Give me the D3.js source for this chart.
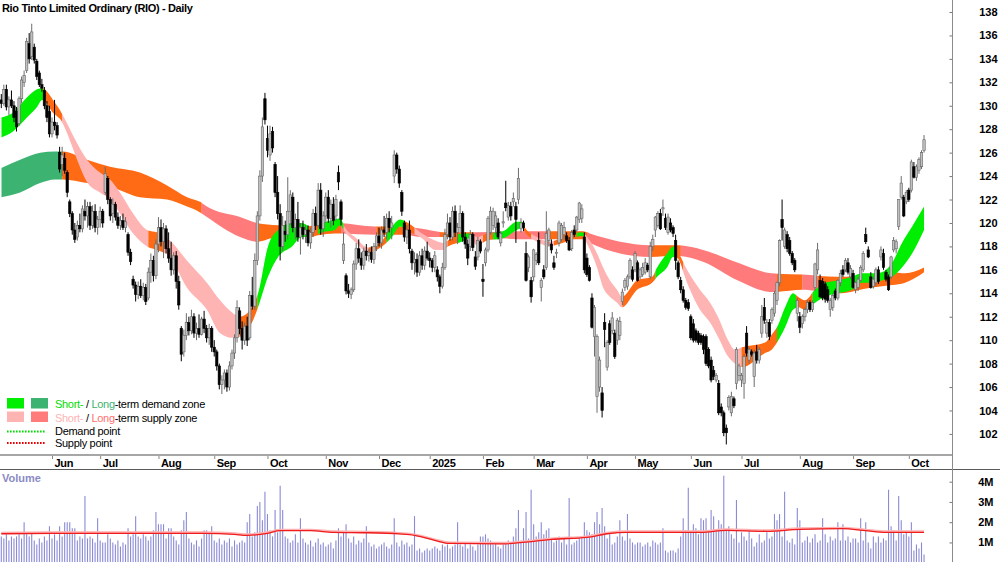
<!DOCTYPE html>
<html>
<head>
<meta charset="utf-8">
<script src="https://cdn.jsdelivr.net/npm/d3@7"></script>
<style>
  body { margin: 0; background: #fff; }
  svg { display: block; font-family: "Liberation Sans", Arial, sans-serif; }
</style>
</head>
<body>
<div id="app"></div>
<script>
// ---- data ----
const title = "Rio Tinto Limited Ordinary (RIO) - Daily";
const firstDay = "2024-05-06";
const holidays = ["2024-06-10", "2024-12-25", "2024-12-26", "2025-01-01", "2025-01-27",
                  "2025-04-18", "2025-04-21", "2025-04-25", "2025-06-09"];

// daily candles: [open, high, low, close]
const candles = [
  [130.5,131.0,129.8,130.2],[130.2,131.8,130.0,131.4],[131.4,131.8,129.6,129.9],[129.9,130.8,129.2,130.5],[130.5,131.3,129.8,130.0],
  [130.0,130.4,128.6,129.0],[129.5,129.9,127.8,128.2],[128.5,130.8,128.3,130.6],[130.6,132.5,130.2,132.2],[132.0,133.0,131.6,132.6],
  [133.0,135.8,132.8,135.5],[135.3,136.2,133.6,134.0],[134.2,137.0,133.9,136.3],[135.0,135.3,133.6,133.9],[133.8,134.0,132.2,132.5],
  [132.8,133.0,131.6,131.8],[131.8,132.3,131.2,131.5],[131.3,131.6,129.7,130.0],[130.0,130.4,128.6,129.0],[129.5,130.0,127.3,127.6],
  [127.6,129.0,127.3,128.6],[128.6,130.5,127.9,128.3],[128.3,128.6,127.2,127.5],[126.0,126.5,124.3,124.6],[125.0,126.5,124.0,125.8],
  [125.5,126.0,124.2,124.5],[124.3,124.5,122.2,122.6],[121.8,122.0,120.5,120.8],[120.8,121.0,119.0,119.4],[119.4,120.0,118.3,118.6],
  [118.8,120.2,118.5,119.8],[119.8,120.8,119.2,119.5],[119.5,121.5,119.2,121.2],[121.0,122.0,120.2,120.6],[120.6,121.8,119.6,121.4],
  [121.4,121.8,119.4,119.8],[119.8,121.5,119.5,121.0],[121.0,121.6,119.2,119.6],[119.6,120.6,119.0,120.3],[120.3,121.4,119.6,121.0],
  [121.0,121.2,119.6,120.0],[122.6,124.8,122.4,124.2],[123.8,124.0,121.6,122.0],[122.0,122.2,120.2,120.6],[120.8,122.1,120.0,121.6],
  [121.6,121.8,120.2,120.5],[120.5,120.9,119.5,119.8],[119.8,120.6,119.4,120.2],[120.2,120.8,119.4,119.6],[119.6,120.5,119.2,120.1],
  [119.0,119.2,117.2,117.5],[117.5,117.8,116.4,116.7],[115.2,115.5,114.4,114.7],[114.7,115.0,113.3,113.9],[113.9,115.0,113.5,114.6],
  [114.6,115.2,113.6,113.8],[113.8,114.9,113.4,114.5],[114.5,114.8,113.0,113.3],[113.6,116.2,113.4,115.8],[115.8,117.4,114.9,116.8],
  [116.8,117.2,115.0,115.5],[115.5,118.6,115.2,118.2],[118.2,120.5,117.5,119.6],[119.6,120.3,118.0,118.4],[118.4,120.0,117.0,119.5],
  [119.5,119.8,117.4,117.8],[117.8,119.2,116.6,117.0],[117.0,118.4,115.5,116.0],[116.0,117.5,115.6,117.2],[117.2,117.6,114.4,115.0],
  [115.0,115.5,112.6,113.0],[111.0,111.2,108.2,108.8],[109.0,110.9,108.6,110.4],[110.4,112.3,110.0,111.5],[111.5,112.0,110.4,110.8],
  [110.8,112.6,110.5,112.0],[112.0,112.3,110.2,110.6],[110.6,111.5,110.0,111.0],[111.0,112.2,110.2,110.5],[110.5,112.0,110.4,111.8],
  [111.8,112.5,110.6,111.0],[111.0,111.3,109.8,110.2],[110.2,111.4,109.6,111.0],[111.0,111.2,109.0,109.4],[109.4,110.0,108.6,109.0],
  [109.0,109.2,107.4,107.8],[107.8,108.0,105.8,106.2],[106.2,107.0,105.4,106.6],[106.6,107.5,105.8,107.2],[107.2,107.5,105.6,106.0],
  [106.0,108.2,105.7,107.8],[107.8,109.2,107.5,108.9],[108.9,110.5,108.4,110.2],[110.2,113.4,109.8,112.8],[112.5,112.8,110.5,111.0],
  [111.0,111.6,109.2,110.0],[110.0,111.5,109.6,111.2],[111.2,112.0,109.5,110.0],[110.2,114.2,110.0,113.8],[113.8,115.4,112.6,112.9],
  [112.9,117.4,112.6,116.8],[116.8,121.0,116.4,120.6],[120.6,124.5,120.2,124.0],[124.0,129.0,123.5,128.2],[130.6,131.1,128.4,128.8],
  [127.2,128.3,125.6,126.2],[125.8,128.3,125.3,127.6],[127.8,128.2,126.0,126.4],[125.0,125.2,122.2,122.6],[122.6,124.0,120.3,120.8],
  [120.8,121.6,116.8,118.0],[118.0,120.6,117.6,119.8],[119.3,120.2,118.4,119.0],[119.0,123.9,118.6,121.0],[121.0,122.8,119.8,122.4],
  [122.2,122.6,119.2,119.6],[119.6,120.8,118.6,120.3],[120.3,121.8,118.4,118.8],[118.8,120.0,117.3,119.6],[119.6,120.2,118.6,119.0],
  [119.0,119.8,118.3,119.4],[119.4,119.8,118.0,118.3],[118.3,119.6,117.8,119.2],[119.2,121.2,118.8,120.8],[120.8,121.4,119.4,119.8],
  [119.8,123.4,119.6,122.8],[122.8,123.4,119.0,119.5],[119.5,121.0,118.8,120.6],[120.6,122.6,120.0,122.2],[122.2,122.8,120.0,120.4],
  [120.4,122.0,119.6,121.6],[121.6,122.2,119.8,120.2],[120.6,122.4,120.2,122.0],[124.3,124.9,122.8,123.5],[121.8,122.0,119.8,120.3],
  [116.8,119.2,116.5,118.2],[115.5,115.7,113.9,114.2],[114.2,114.8,113.6,114.0],[113.9,114.5,113.5,114.3],[114.3,116.8,114.1,116.5],
  [116.5,118.3,116.0,117.8],[117.8,118.6,116.6,117.0],[117.0,117.5,116.0,116.4],[116.4,117.9,116.0,117.6],[117.6,118.2,116.8,117.2],
  [117.2,117.8,116.7,117.5],[117.5,118.0,116.6,116.9],[116.9,118.3,116.5,118.0],[118.0,119.2,117.6,118.9],[118.9,119.6,118.0,118.3],
  [118.3,119.7,117.8,119.4],[119.4,120.6,118.8,119.2],[119.2,120.8,118.6,120.4],[120.4,121.0,119.2,119.6],[119.6,120.6,118.6,120.0],
  [124.0,126.2,123.4,125.8],[125.8,126.0,124.2,124.6],[124.6,124.9,123.0,123.4],[122.6,122.8,120.6,121.0],[120.0,120.2,118.4,118.8],
  [118.8,119.8,118.2,119.4],[119.4,120.2,117.4,117.8],[117.6,117.8,116.0,116.6],[116.6,117.5,115.6,116.9],[116.9,117.4,115.4,115.8],
  [115.8,117.6,115.5,117.2],[117.2,117.8,116.0,116.4],[116.4,118.0,116.0,117.6],[117.6,118.4,116.8,117.0],[117.0,117.5,116.2,116.8],
  [116.8,117.0,115.8,116.2],[116.2,117.6,115.8,117.2],[116.0,116.3,115.0,115.4],[115.4,115.6,114.0,114.6],[114.6,116.6,114.4,116.2],
  [116.2,119.5,116.0,119.0],[119.0,120.8,118.6,120.0],[120.0,120.5,118.5,118.8],[118.8,121.4,118.5,121.0],[121.0,121.5,118.8,119.2],
  [119.2,120.0,118.2,119.6],[119.6,121.5,119.2,120.8],[120.8,121.0,118.4,118.8],[118.8,119.2,117.8,118.2],[118.2,118.6,116.4,117.0],
  [118.0,119.4,117.6,119.0],[119.0,119.2,117.6,117.9],[117.1,117.6,116.0,116.3],[117.1,118.8,116.8,118.5],[118.4,118.6,117.4,117.6],
  [115.2,116.5,113.7,115.0],[116.6,117.9,116.3,117.7],[117.7,120.6,117.5,120.4],[119.2,121.4,119.0,121.0],[119.8,121.3,119.4,121.0],
  [119.6,121.0,119.0,120.6],[120.0,120.4,118.6,118.8],[118.3,119.3,118.0,119.1],[120.0,121.0,119.6,120.1],[121.7,123.6,121.0,121.3],
  [120.5,121.8,120.2,121.5],[121.4,121.8,120.2,120.6],[121.8,122.6,121.4,122.1],[121.4,121.8,118.3,120.3],[122.0,124.7,121.6,123.8],
  [119.5,120.4,119.2,120.0],[120.0,120.2,119.3,119.6],[117.4,118.4,115.0,115.1],[116.2,117.3,115.8,117.1],[115.1,115.4,113.2,113.7],
  [115.4,117.8,115.0,117.7],[116.8,117.5,116.4,117.3],[118.5,119.2,116.4,116.6],[114.5,115.3,113.3,115.1],[116.0,116.4,115.2,115.4],
  [116.2,121.0,116.0,119.1],[118.5,119.6,118.0,119.4],[118.2,118.6,117.4,117.7],[116.6,117.2,116.0,116.2],[117.4,117.8,117.0,117.5],
  [118.3,120.2,118.0,120.0],[118.6,120.0,118.4,119.8],[119.0,120.1,118.6,119.6],[118.9,119.2,118.3,118.5],[118.5,118.8,117.6,117.7],
  [117.8,119.4,117.6,119.2],[119.4,119.8,118.8,119.0],[119.4,120.6,119.2,120.5],[120.3,121.8,120.0,121.7],[120.4,121.6,120.0,121.2],
  [118.8,119.2,115.7,116.0],[117.0,117.4,115.4,115.6],[116.2,116.4,115.0,115.1],[113.6,114.0,111.0,111.1],[110.3,113.0,108.6,112.8],
  [105.2,110.5,103.8,110.3],[106.0,108.6,105.6,108.3],[105.5,106.0,103.4,104.0],[111.5,112.3,109.4,110.9],[107.7,110.0,107.4,109.8],
  [111.4,111.7,109.6,109.8],[110.8,112.4,110.5,111.9],[110.6,110.9,108.4,108.6],[110.0,111.9,109.6,111.7],[110.4,112.0,110.0,111.6],
  [113.3,114.4,113.0,114.1],[114.5,115.3,114.2,115.1],[114.6,115.6,114.3,115.4],[115.4,117.0,115.2,116.8],[116.0,116.3,115.0,115.2],
  [116.0,117.6,115.8,117.4],[116.6,116.8,115.0,115.1],[115.4,116.2,115.2,116.0],[115.6,116.6,115.4,116.2],[115.8,117.0,115.6,116.6],
  [116.4,116.6,115.8,116.0],[115.4,118.4,115.2,118.0],[118.0,119.0,117.6,118.6],[119.4,120.6,118.8,120.5],[119.8,121.0,119.6,120.8],
  [120.8,121.2,119.4,119.5],[121.2,122.0,120.6,121.3],[120.4,120.8,119.4,119.6],[119.2,120.8,119.0,120.5],[120.0,120.4,119.2,119.4],
  [119.6,119.8,118.8,119.1],[118.5,119.0,116.0,116.8],[116.6,116.8,115.2,115.4],[115.1,115.4,114.0,114.3],[114.3,114.6,113.2,113.4],
  [113.4,113.6,112.6,112.8],[113.2,113.5,112.5,112.7],[112.0,112.2,110.0,110.2],[111.4,111.8,109.8,110.0],[110.8,111.0,109.8,110.0],
  [110.6,110.8,109.6,109.8],[110.4,110.6,109.6,109.8],[110.3,110.5,108.8,109.2],[110.3,110.5,107.8,108.0],[109.2,109.4,107.6,107.8],
  [108.3,108.6,106.4,106.6],[107.4,107.8,106.6,106.9],[106.6,107.2,106.4,107.0],[106.3,106.6,103.6,103.8],[104.3,104.6,103.5,103.8],
  [103.8,104.0,101.8,102.1],[102.5,102.8,101.1,102.1],[104.3,105.3,104.0,105.1],[103.8,105.6,103.5,105.2],[105.0,105.2,104.2,104.4],
  [106.3,109.4,105.8,109.2],[107.0,108.0,106.5,107.8],[106.6,107.2,106.0,107.0],[106.3,108.8,105.0,108.6],[110.6,111.2,108.6,108.9],
  [108.3,109.4,108.0,109.2],[109.0,109.2,108.6,108.8],[106.9,109.2,106.0,108.9],[109.0,109.6,108.0,108.3],[108.3,109.4,108.0,109.2],
  [110.6,113.0,110.2,112.0],[112.8,113.6,111.4,111.7],[110.6,111.8,110.2,111.5],[111.5,111.8,110.0,110.3],[111.7,112.8,111.4,112.6],
  [112.3,114.2,112.0,114.0],[113.4,115.0,113.0,114.9],[114.9,118.6,114.6,118.5],[120.3,122.0,118.5,119.6],[118.0,119.6,117.8,119.4],
  [119.0,119.3,117.5,117.8],[118.5,118.8,117.2,117.4],[117.4,117.6,116.4,116.6],[116.8,117.0,115.8,116.0],[112.3,113.6,111.6,113.4],
  [112.0,112.4,110.6,111.1],[111.4,112.2,111.0,112.0],[112.0,112.8,111.6,112.6],[112.6,113.4,112.3,113.2],[113.2,113.4,112.4,112.6],
  [112.6,113.4,112.4,113.2],[114.5,116.6,114.2,116.5],[116.0,118.3,115.6,117.7],[115.1,115.6,113.6,113.7],[115.0,115.3,113.4,113.6],
  [114.8,115.0,113.2,113.5],[114.3,114.6,113.2,113.4],[112.6,113.6,112.0,113.4],[112.8,114.0,112.5,113.8],[114.2,114.4,113.4,113.6],
  [113.6,115.2,113.4,115.1],[114.9,116.0,114.6,115.7],[116.0,116.4,115.4,115.6],[116.0,117.0,115.8,116.8],[116.6,117.0,115.6,115.8],
  [115.4,116.4,115.2,116.1],[115.7,116.0,114.4,114.5],[114.3,115.0,114.0,114.9],[114.5,115.4,114.2,115.2],[115.1,116.4,115.0,116.2],
  [116.0,117.6,115.8,117.4],[119.0,119.6,118.2,118.4],[117.7,118.0,117.0,117.1],[115.4,115.8,114.4,114.5],[114.6,115.4,114.4,115.2],
  [114.9,116.2,114.6,116.0],[116.0,116.3,114.8,115.0],[117.1,118.0,116.8,117.7],[117.4,117.8,116.0,116.2],[115.8,116.0,115.0,115.2],
  [115.4,115.6,114.2,114.3],[115.4,117.2,115.2,117.1],[117.7,118.8,117.5,118.5],[117.8,118.6,117.4,118.4],[119.7,122.0,119.4,122.0],
  [122.2,124.0,122.0,123.4],[122.2,122.4,120.5,120.6],[121.8,122.8,121.6,122.6],[122.8,123.0,121.8,122.0],[122.8,125.4,122.6,125.2],
  [124.8,125.2,123.8,123.9],[123.9,125.0,123.6,124.8],[124.5,125.6,124.2,125.4],[124.8,126.2,124.6,126.0],[126.2,127.5,126.0,127.1]
];

// daily volume, millions
const volumes = [
  1.3,1.2,1.4,1.1,1.3,1.2,1.3,1.4,1.2,2.0, 1.4,1.3,1.5,1.1,0.9,1.2,1.0,1.3,1.1,1.8,
  1.2,1.4,1.1,1.8,1.3,2.0,2.0,2.0,1.7,1.7, 1.1,1.3,1.2,3.3,1.2,1.3,1.2,1.0,2.2,1.1,
  1.0,1.0,1.4,1.2,1.0,0.9,1.1,0.8,1.0,0.9, 1.7,1.3,1.4,2.3,1.3,1.2,1.4,1.3,1.1,1.3,
  1.6,2.5,1.9,1.9,1.9,1.2,1.7,1.7,1.3,1.1, 0.9,1.6,2.1,2.5,1.2,1.0,0.9,1.1,0.8,1.2,
  1.6,1.6,1.5,1.8,1.1,1.0,1.2,0.9,1.1,1.0, 1.2,0.8,1.1,0.9,1.0,1.1,1.0,2.0,2.4,1.3,
  1.5,2.8,3.0,2.1,3.5,2.4,1.6,1.3,2.6,1.5, 3.8,2.6,1.3,1.2,1.0,1.1,1.4,1.0,2.2,1.2,
  1.0,0.9,1.1,0.8,1.0,1.2,0.9,1.0,0.8,0.9, 1.0,0.7,1.1,1.7,1.3,1.5,1.9,1.2,1.0,1.3,
  0.9,1.1,1.0,1.2,1.8,1.0,0.8,0.9,0.7,0.8, 0.9,1.0,0.8,0.7,0.9,2.2,1.0,0.8,1.1,0.9,
  1.0,0.8,0.9,2.3,0.6,0.7,0.5,0.6,0.7,0.6, 0.7,0.8,0.7,0.6,0.9,0.8,0.9,0.7,0.8,0.9,
  2.0,0.9,0.8,1.0,0.7,0.9,0.8,0.6,0.9,1.3, 1.3,1.4,1.2,1.1,0.9,1.0,0.8,0.7,0.9,1.0,
  1.1,1.0,1.3,1.7,2.6,1.1,1.7,2.5,1.2,3.6, 1.9,1.3,1.5,2.0,1.4,1.6,1.7,1.2,1.0,1.1,
  1.3,1.0,1.2,0.9,3.2,0.9,1.0,1.1,1.2,1.2, 2.0,1.6,1.5,1.4,2.0,2.5,1.9,2.7,1.8,1.2,
  1.4,0.9,1.0,1.3,2.1,1.3,1.1,2.4,1.2,1.0, 0.9,1.0,1.0,0.8,0.9,1.0,0.8,1.1,1.0,0.9,
  1.0,1.7,0.6,0.5,0.6,0.6,0.5,0.7,1.3,2.2, 1.6,3.7,1.5,1.9,1.7,1.4,2.2,2.1,2.2,1.6,
  2.6,2.3,1.6,2.1,1.9,4.3,1.6,1.8,1.4,1.2, 3.1,1.0,1.5,1.3,1.1,1.6,1.2,0.8,1.0,1.4,
  1.0,1.1,1.5,1.2,1.3,2.4,2.1,2.4,1.3,3.5, 1.1,1.0,1.2,0.9,2.7,2.1,1.0,1.1,1.3,1.0,
  1.2,1.4,1.0,1.1,2.2,1.4,1.0,1.3,1.1,1.2, 2.0,1.1,1.9,1.1,1.3,1.0,1.2,1.2,1.0,2.2,
  1.1,2.0,1.0,0.7,1.3,1.0,1.3,1.0,1.2,1.1, 3.6,1.8,1.6,1.1,3.3,2.1,1.4,1.5,1.3,2.0,
  0.6,0.9,0.7,1.0,0.4
];

// volume moving average, sampled [day index, millions]
const volumeAvg = [[0,1.43],[20,1.45],[40,1.45],[60,1.45],[80,1.45],[92,1.40],[97,1.35],[105,1.45],[110,1.58],
  [122,1.58],[131,1.50],[145,1.48],[157,1.42],[163,1.35],[171,1.10],[177,0.95],[197,0.93],[210,1.05],[217,1.15],
  [231,1.25],[239,1.43],[247,1.50],[276,1.50],[286,1.60],[302,1.55],[315,1.65],[332,1.68],[341,1.58],[349,1.50],[364,1.50]];

// zone bands, sampled [day index, upper price, lower price]
const shortBand = [[0,129.0,127.3],[4.6,129.4,127.8],[10.1,130.7,129.0],[14.1,131.4,129.9],[16.1,131.5,130.5],[20.4,130.5,129.4],
  [24,129.3,128.6],[25.9,128.5,127.7],[29.9,126.8,125.4],[33.8,125.4,123.5],[38.9,124.3,122.6],[42.9,123.7,122.0],[46.8,122.6,120.8],
  [52,120.8,119.1],[57.5,119.4,118.0],[61.4,119.2,117.7],[66.5,118.5,117.1],[73.2,116.8,114.5],[81.1,114.9,112.6],[86.3,113.4,110.6],
  [91.4,112.3,110.2],[94.2,112.0,110.3],[98.9,112.8,111.5],[101.3,114.0,112.8],[105.2,118.0,115.4],[109.2,119.4,117.1],[114.7,120.0,118.0],
  [118.6,120.0,118.8],[122.6,119.6,118.8],[126.5,120.0,119.2],[131.6,120.3,119.4],[133.6,120.4,119.8],[135.6,119.6,119.2],[139.5,118.8,118.4],
  [144.7,117.9,117.5],[150.2,118.5,118.0],[154.1,119.7,118.8],[157.3,120.3,119.7],[160.5,120.0,119.3],[166,119.1,118.7],[171.1,118.5,117.7],
  [174.2,118.3,117.7],[176.2,118.5,118.0],[181.7,119.1,118.4],[184.9,119.1,118.7],[187.7,118.8,118.1],[191.6,119.1,118.5],[197.9,119.3,118.7],
  [203.4,120.1,119.4],[205.4,120.1,119.6],[206.6,119.6,119.2],[211.3,118.8,118.4],[216.5,118.4,118.0],[218.4,118.5,118.1],[224.3,119.0,118.5],
  [229.1,119.2,118.9],[231.1,118.8,118.2],[235,117.4,116.2],[237.4,116.2,114.5],[240.1,115.1,113.7],[242.9,114.3,113.2],[244.8,113.7,112.8],
  [250.8,115.1,114.3],[256.7,115.4,114.9],[258.7,116.2,115.4],[262.6,117.4,116.2],[265,118.0,117.1],[266.7,117.6,117.0],[270.5,116.0,114.9],
  [275.6,114.3,112.6],[279.6,113.2,111.5],[282.7,112.0,110.3],[286.7,110.0,108.6],[289.4,109.2,108.0],[292.2,109.4,107.7],[301.3,109.8,108.9],
  [304,110.5,109.2],[306,111.1,109.8],[309.2,112.8,111.1],[312.3,114.0,112.6],[314.3,113.7,112.8],[317,113.4,112.6],[321,114.3,113.2],
  [324.9,114.9,113.7],[330,115.1,114.0],[335.6,115.4,114.3],[339.5,115.7,114.9],[343.5,115.7,114.9],[347.4,115.8,115.1],[351.4,116.6,115.4],
  [355.3,118.3,116.2],[359.3,119.7,117.4],[364,121.4,119.4]];
const longBand = [[0,124.7,122.2],[7.4,125.4,122.6],[15.3,126.0,123.4],[21.2,126.1,123.7],[24.3,126.1,123.7],[33.8,125.4,123.4],
  [42.9,124.8,123.1],[54.7,124.3,122.2],[65.4,123.2,122.0],[73.3,122.2,121.4],[78.4,121.8,120.9],[81.1,121.4,120.5],[94.2,120.5,118.8],
  [100.9,120.0,118.4],[109.2,119.8,118.8],[118.6,119.7,118.8],[131.6,120.0,119.1],[147.4,119.7,119.0],[158,119.7,119.0],[166,119.5,118.8],
  [175,119.2,118.8],[186.9,119.2,118.8],[207.4,119.3,118.6],[229.5,119.3,118.6],[232.2,119.1,118.3],[244.1,118.4,117.4],[256,118.1,117.1],
  [266.6,118.1,117.2],[276.8,117.7,116.7],[290.6,116.6,115.1],[304,115.7,114.1],[315.9,115.6,114.3],[330,115.4,114.0],[343.5,115.6,114.5],
  [351.4,115.8,114.7],[356.5,115.7,114.9],[364,116.2,115.8]];

// zone state per stretch of days: d = demand, s = supply, t = turning
const shortZones = [["d",0,16.5],["t",16.5,24],["s",24,58],["t",58,64],["s",64,94],["t",94,101],["d",101,121],["t",121,125],
  ["d",125,135],["s",135,145],["t",145,152],["d",152,159],["t",159,163],["s",163,176],["t",176,180],["d",180,185],["s",185,190],
  ["t",190,194],["d",194,206],["t",206,209],["s",209,218],["t",218,227],["d",227,230],["s",230,245],["t",245,258],["d",258,266],
  ["t",266,269],["s",269,292],["t",292,306],["d",306,313.5],["t",313.5,320],["d",320,365]];
const longZones = [["d",0,24],["t",24,79],["s",79,101],["t",101,134],["s",134,148],["t",148,160],["s",160,173],["t",173,186],
  ["s",186,215],["t",215,231],["s",231,256],["t",256,268],["s",268,306],["t",306,316],["s",316,322],["t",322,365]];

const priceTicks = [102,104,106,108,110,112,114,116,118,120,122,124,126,128,130,132,134,136,138];
const volumeTicks = [1,2,3,4];

// ---- layout ----
const W = 1000, H = 562;
const axisX = 952.5;
const zoneColors = {
  short: {d: "#00ee00", s: "#ffb4b4", t: "#ff6a14"},
  long:  {d: "#3cb371", s: "#ff7a7a", t: "#ff6a14"}
};

const svg = d3.select("#app").append("svg").attr("width", W).attr("height", H);

const x = d3.scaleLinear().domain([0, 375]).range([1.3, 1.3 + 375 * 2.535]);
const y = d3.scaleLinear().domain([138, 102]).range([12, 12 + 36 * 11.72]);
const yv = d3.scaleLinear().domain([0, 4]).range([562.7, 481.7]);

// trading calendar
const fmt = d3.timeFormat("%Y-%m-%d");
const days = [];
for (let d = d3.timeParse("%Y-%m-%d")(firstDay); days.length < candles.length; d = d3.timeDay.offset(d, 1)) {
  if (d.getDay() % 6 !== 0 && !holidays.includes(fmt(d))) days.push(d);
}
const monthStarts = days.map((d, i) => i).filter(i => i > 0 && days[i].getMonth() !== days[i - 1].getMonth());

// ---- price panel ----
const price = svg.append("g");
const defs = svg.append("defs");

function drawBand(band, zones, palette, key) {
  const area = d3.area()
    .x(d => x(d[0]))
    .y0(d => y(d[2]))
    .y1(d => y(d[1]))
    .curve(d3.curveMonotoneX);
  zones.forEach((z, k) => {
    const id = `clip-${key}-${k}`;
    defs.append("clipPath").attr("id", id)
      .append("rect")
        .attr("x", x(z[1]))
        .attr("y", 0)
        .attr("width", x(z[2]) - x(z[1]) + 0.2)
        .attr("height", 455);
    price.append("path")
      .datum(band)
      .attr("clip-path", `url(#${id})`)
      .attr("fill", palette[z[0]])
      .attr("d", area);
  });
}
drawBand(longBand, longZones, zoneColors.long, "long");
drawBand(shortBand, shortZones, zoneColors.short, "short");

// candles
const candle = price.append("g").selectAll("g")
  .data(candles)
  .join("g")
    .attr("transform", (d, i) => `translate(${x(i)},0)`);
candle.append("line")
  .attr("y1", d => y(d[1]))
  .attr("y2", d => y(d[2]))
  .attr("stroke", d => d[3] >= d[0] ? "#6c6c6c" : "#000")
  .attr("stroke-width", 1);
candle.append("rect")
  .attr("x", -1.2)
  .attr("width", 2.4)
  .attr("y", d => y(Math.max(d[0], d[3])))
  .attr("height", d => Math.max(0.8, Math.abs(y(d[0]) - y(d[3]))))
  .attr("fill", d => d[3] >= d[0] ? "#c0c0c0" : "#000")
  .attr("stroke", d => d[3] >= d[0] ? "#666" : "#000")
  .attr("stroke-width", 0.6);

// title
svg.append("text")
  .attr("x", 2)
  .attr("y", 12)
  .attr("font-size", 11)
  .attr("font-weight", "bold")
  .attr("letter-spacing", -0.35)
  .text(title);

// legend
const legend = svg.append("g").attr("font-size", 11).attr("letter-spacing", -0.3);
const legendRows = [
  {y: 398, fills: [zoneColors.short.d, zoneColors.long.d], parts: [["Short-", "#00dd00"], [" / ", "#000"], ["Long", "#3cb371"], ["-term demand zone", "#000"]]},
  {y: 411.5, fills: [zoneColors.short.s, zoneColors.long.s], parts: [["Short-", "#ffb4b4"], [" / ", "#000"], ["Long", "#ff6f6f"], ["-term supply zone", "#000"]]}
];
legendRows.forEach(r => {
  r.fills.forEach((f, k) => legend.append("rect")
    .attr("x", 7 + k * 24).attr("y", r.y).attr("width", 17).attr("height", 10.5).attr("fill", f));
  const t = legend.append("text").attr("x", 55).attr("y", r.y + 10);
  r.parts.forEach(p => t.append("tspan").attr("fill", p[1]).text(p[0]));
});
[["Demand point", "#00dd00", 431.5], ["Supply point", "#ee0000", 443]].forEach(([label, c, ly]) => {
  legend.append("line")
    .attr("x1", 7).attr("x2", 45).attr("y1", ly).attr("y2", ly)
    .attr("stroke", c).attr("stroke-width", 2).attr("stroke-dasharray", "1.6,1.4");
  legend.append("text").attr("x", 55).attr("y", ly + 3.5).text(label);
});

// price axis
const priceAxis = svg.append("g")
  .attr("transform", `translate(${axisX},0)`)
  .call(d3.axisRight(y).tickValues(priceTicks).tickSize(-3).tickSizeOuter(0).tickFormat(d3.format("d")));
priceAxis.select(".domain").remove();
priceAxis.selectAll(".tick line").attr("stroke", "#777");
priceAxis.selectAll(".tick text")
  .attr("x", 45).attr("text-anchor", "end")
  .attr("font-size", 11).attr("font-weight", "bold").attr("font-family", "Liberation Sans, Arial, sans-serif")
  .attr("fill", "#000");

// time axis strip
svg.append("line").attr("x1", 0).attr("x2", axisX).attr("y1", 455).attr("y2", 455)
  .attr("stroke", "#a6a6a6").attr("stroke-width", 2);
svg.append("line").attr("x1", 0).attr("x2", W).attr("y1", 469.5).attr("y2", 469.5)
  .attr("stroke", "#5a5a5a").attr("stroke-width", 1);
const timeAxis = svg.append("g")
  .attr("transform", "translate(0,456)")
  .call(d3.axisBottom(x).tickValues(monthStarts).tickSize(3).tickSizeOuter(0)
    .tickFormat(i => days[i].getMonth() === 0 ? d3.timeFormat("%Y")(days[i]) : d3.timeFormat("%b")(days[i])));
timeAxis.select(".domain").remove();
timeAxis.selectAll(".tick line").attr("stroke", "#888");
timeAxis.selectAll(".tick text")
  .attr("x", 2).attr("y", 0).attr("dy", "11px").attr("text-anchor", "start")
  .attr("font-size", 11).attr("font-weight", "bold").attr("letter-spacing", -0.3)
  .attr("font-family", "Liberation Sans, Arial, sans-serif").attr("fill", "#000");

// ---- volume panel ----
svg.append("text")
  .attr("x", 2).attr("y", 482)
  .attr("font-size", 11).attr("font-weight", "bold")
  .attr("fill", "#8a8ac6")
  .text("Volume");

svg.append("g").selectAll("line")
  .data(volumes)
  .join("line")
    .attr("x1", (d, i) => x(i)).attr("x2", (d, i) => x(i))
    .attr("y1", yv(0)).attr("y2", d => yv(d))
    .attr("stroke", "#8a8ad6").attr("stroke-width", 1.1);

const avgLine = d3.line().x(d => x(d[0])).y(d => yv(d[1])).curve(d3.curveMonotoneX);
svg.append("path").datum(volumeAvg)
  .attr("fill", "none").attr("stroke", "#ffb0b0").attr("stroke-width", 2.4)
  .attr("transform", "translate(0,-0.8)").attr("d", avgLine);
svg.append("path").datum(volumeAvg)
  .attr("fill", "none").attr("stroke", "#ee1c1c").attr("stroke-width", 1.3).attr("d", avgLine);

const volAxis = svg.append("g")
  .attr("transform", `translate(${axisX},0)`)
  .call(d3.axisRight(yv).tickValues(volumeTicks).tickSize(-3).tickSizeOuter(0).tickFormat(d => d + "M"));
volAxis.select(".domain").remove();
volAxis.selectAll(".tick line").attr("stroke", "#777");
volAxis.selectAll(".tick text")
  .attr("x", 41).attr("text-anchor", "end")
  .attr("font-size", 11).attr("font-weight", "bold").attr("font-family", "Liberation Sans, Arial, sans-serif")
  .attr("fill", "#000");

// right axis line across both panels
svg.append("line").attr("x1", axisX).attr("x2", axisX).attr("y1", 0).attr("y2", H)
  .attr("stroke", "#8a8a8a").attr("stroke-width", 1);
</script>
</body>
</html>
